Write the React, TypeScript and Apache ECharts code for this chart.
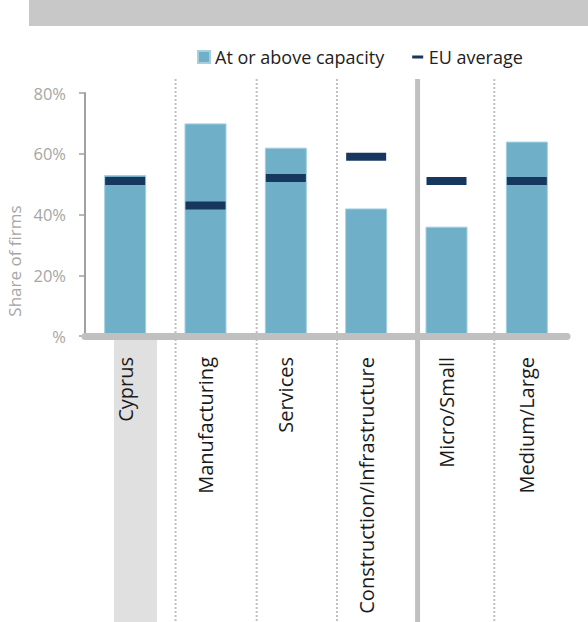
import React, { useEffect, useRef } from "react";
import * as echarts from "echarts";

const categories = [
  "Cyprus",
  "Manufacturing",
  "Services",
  "Construction/Infrastructure",
  "Micro/Small",
  "Medium/Large",
];
const capacityValues = [53, 70, 62, 42, 36, 64];
const euAverageValues = [51, 43, 52, 59, 51, 51];
const seriesNames = ["At or above capacity", "EU average"];
const yAxisTitle = "Share of firms";
const yMin = 0;
const yMax = 80;
const yInterval = 20;

const FONT = "'Open Sans', 'Noto Sans', sans-serif";
const W = 588;
const H = 622;

export default function App() {
  const ref = useRef<HTMLDivElement>(null);

  useEffect(() => {
    if (!ref.current) return;
    const chart = echarts.init(ref.current, null, { renderer: "svg" });
    const option: any = {
      animation: false,
      textStyle: { fontFamily: FONT },
      grid: { left: 85, right: 21, top: 93, bottom: H - 336, containLabel: false },
      legend: {
        left: 197,
        top: 48,
        padding: 0,
        itemWidth: 12,
        itemHeight: 12,
        itemGap: 28,
        textStyle: { fontSize: 18, color: "#222", fontFamily: FONT },
        data: [
          { name: seriesNames[0], icon: "rect" },
          { name: seriesNames[1], icon: "path://M0,0M0,12M0,4.5h11v3h-11z" },
        ],
      },
      xAxis: {
        type: "category",
        data: categories,
        z: 5,
        axisLine: { show: true, lineStyle: { color: "#c0c0c0", width: 7 } },
        axisTick: { show: false },
        axisLabel: {
          rotate: 90,
          margin: 21,
          fontSize: 20,
          color: "#1a1a1a",
          fontFamily: FONT,
        },
        splitLine: { show: false },
      },
      yAxis: {
        type: "value",
        min: yMin,
        max: yMax,
        interval: yInterval,
        axisLine: { show: true, lineStyle: { color: "#a0a0a0", width: 2 } },
        axisTick: { show: true, length: 6, lineStyle: { color: "#a0a0a0", width: 1.5 } },
        axisLabel: {
          margin: 19,
          fontSize: 16.5,
          color: "#a6a6a6",
          fontFamily: FONT,
          formatter: (v: number) => (v === 0 ? "%" : v + "%"),
        },
        splitLine: { show: false },
      },
      series: [
        {
          name: seriesNames[0],
          type: "bar",
          data: capacityValues,
          barWidth: 42,
          itemStyle: { color: "#70afc8", borderColor: "#a3cfdf", borderWidth: 1 },
          z: 2,
        },
        {
          name: seriesNames[1],
          type: "scatter",
          data: euAverageValues,
          symbol: "rect",
          symbolSize: [40, 8],
          itemStyle: { color: "#17375e", opacity: 1 },
          z: 4,
        },
      ],
    };
    chart.setOption(option);

    const c0 = chart.convertToPixel({ xAxisIndex: 0 }, categories[0]) as number;
    const c1 = chart.convertToPixel({ xAxisIndex: 0 }, categories[1]) as number;
    const bw = c1 - c0;
    const left = c0 - bw / 2;
    const y0 = chart.convertToPixel({ yAxisIndex: 0 }, yMin) as number;
    const yTop = (chart.convertToPixel({ yAxisIndex: 0 }, yMax) as number) - 14;

    const dotted = [1.127, 2.137, 3.137, 5.095];
    const solid = [4.14];
    const graphics: any[] = [
      {
        type: "rect",
        z: -10,
        shape: { x: 29, y: 0, width: W - 29, height: 26 },
        style: { fill: "#c8c8c8" },
      },
      {
        type: "rect",
        z: -10,
        shape: {
          x: left + 0.361 * bw,
          y: y0 + 3.5,
          width: (0.896 - 0.361) * bw,
          height: H - y0 - 3.5,
        },
        style: { fill: "#e0e0e0" },
      },
      {
        type: "text",
        x: 14,
        y: 261,
        rotation: Math.PI / 2,
        style: {
          text: yAxisTitle,
          fontSize: 17,
          fontFamily: FONT,
          fill: "#a6a6a6",
          align: "center",
          verticalAlign: "middle",
        },
      },
    ];
    dotted.forEach((d) => {
      const x = left + d * bw;
      graphics.push({
        type: "line",
        z: -5,
        shape: { x1: x, y1: yTop, x2: x, y2: H },
        style: { stroke: "#c0c0c0", lineWidth: 2, lineDash: [2, 2] },
      });
    });
    solid.forEach((d) => {
      const x = left + d * bw;
      graphics.push({
        type: "line",
        z: 10,
        shape: { x1: x, y1: yTop, x2: x, y2: H },
        style: { stroke: "#c0c0c0", lineWidth: 5 },
      });
    });
    chart.setOption({ graphic: graphics });

    return () => chart.dispose();
  }, []);

  return (
    <div
      ref={ref}
      style={{ position: "absolute", left: 0, top: 0, width: W, height: H, background: "#fff" }}
    />
  );
}
